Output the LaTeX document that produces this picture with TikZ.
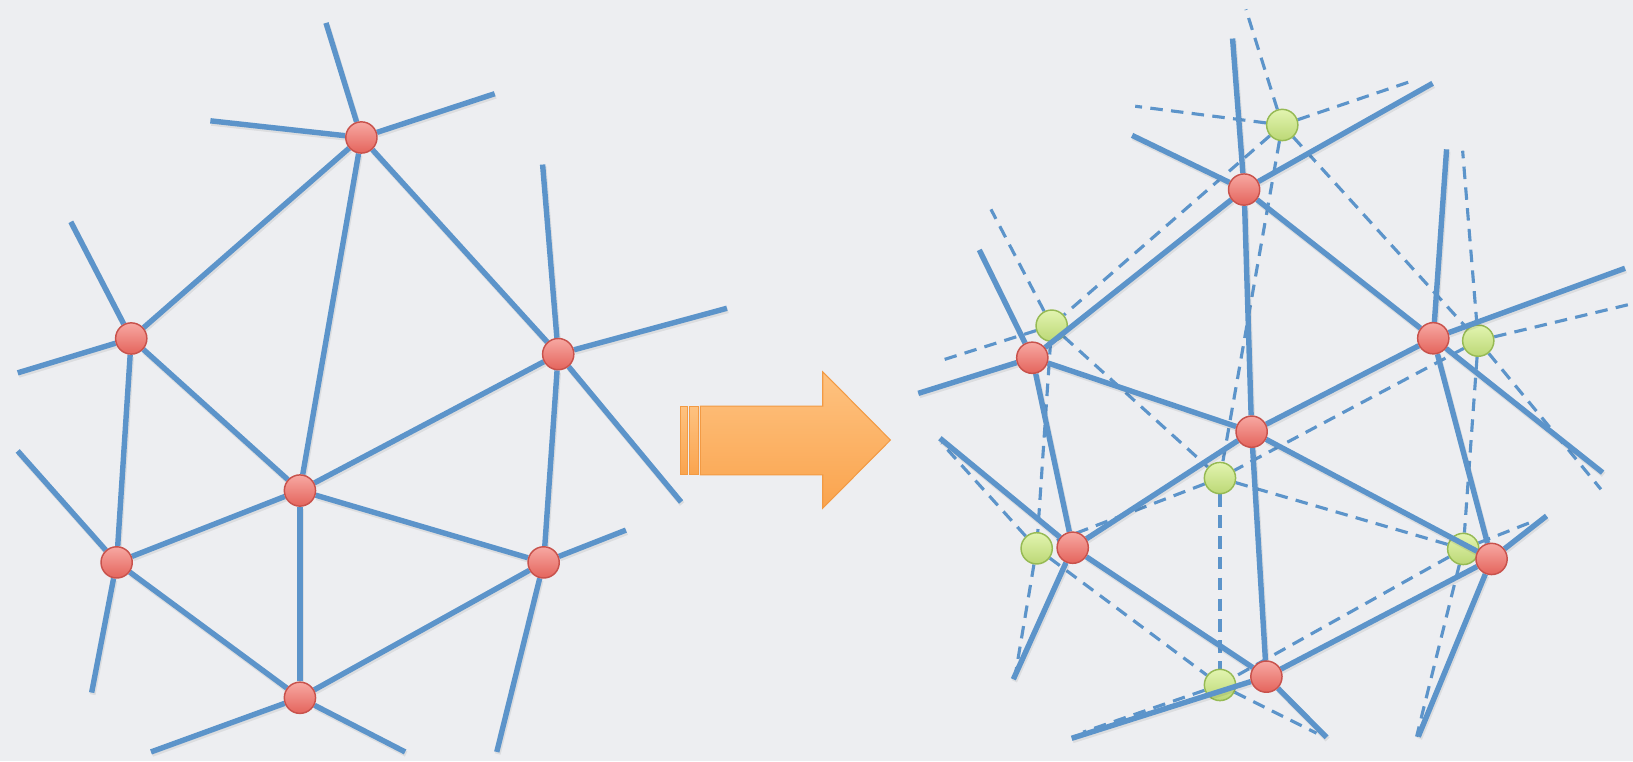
\documentclass[tikz,border=0pt]{standalone}
\usetikzlibrary{calc}
\definecolor{bg}{RGB}{237,238,241}
\definecolor{edgeblue}{RGB}{92,148,202}
\definecolor{redtop}{RGB}{247,168,162}
\definecolor{redbot}{RGB}{228,100,92}
\definecolor{redline}{RGB}{200,82,76}
\definecolor{greentop}{RGB}{226,244,176}
\definecolor{greenbot}{RGB}{188,216,118}
\definecolor{greenline}{RGB}{150,186,84}
\definecolor{arrtop}{RGB}{254,194,128}
\definecolor{arrbot}{RGB}{250,164,78}
\definecolor{arredge}{RGB}{242,154,68}
\pgfdeclarelayer{dashl}
\pgfdeclarelayer{greenl}
\pgfdeclarelayer{solidl}
\pgfsetlayers{dashl,greenl,solidl,main}
\begin{document}
\begin{tikzpicture}[x=1pt,y=-1pt,
  solidedge/.style={draw=edgeblue,line width=5.2pt,
    preaction={draw=black,opacity=0.07,line width=5.5pt,transform canvas={xshift=1pt,yshift=-2pt}}},
  dashededge/.style={draw=edgeblue,line width=3pt,dash pattern=on 12pt off 8pt},
  rednode/.style={circle,inner sep=0pt,minimum size=30pt,draw=redline,line width=1.4pt,top color=redtop,bottom color=redbot},
  greennode/.style={circle,inner sep=0pt,minimum size=30pt,draw=greenline,line width=1.4pt,top color=greentop,bottom color=greenbot},
  arrowpart/.style={draw=arredge,line width=1pt,top color=arrtop,bottom color=arrbot}]

\begin{pgfonlayer}{dashl}
\fill[bg] (0,0) rectangle (1568,731);
\end{pgfonlayer}
\useasboundingbox (0,0) rectangle (1568,731);

% ---------- left graph ----------
\node[rednode] (LA) at (347,132) {};
\node[rednode] (LB) at (126,325) {};
\node[rednode] (LC) at (536,340) {};
\node[rednode] (LD) at (288,471) {};
\node[rednode] (LE) at (112,540) {};
\node[rednode] (LF) at (522,540) {};
\node[rednode] (LG) at (288,670) {};
\coordinate (la1) at (313,22);
\coordinate (la2) at (202,116);
\coordinate (la3) at (475,90);
\coordinate (lb1) at (68,213);
\coordinate (lb2) at (17,358);
\coordinate (lc1) at (521,158);
\coordinate (lc2) at (698,296);
\coordinate (lc3) at (654,482);
\coordinate (le1) at (17,433);
\coordinate (le2) at (88,665);
\coordinate (lf1) at (601,509);
\coordinate (lf2) at (477,722);
\coordinate (lg1) at (145,722);
\coordinate (lg2) at (389,722);

% ---------- right solid graph ----------
\node[rednode] (RA) at (1194.6,182) {};
\node[rednode] (RB) at (991.2,343.5) {};
\node[rednode] (RC) at (1376.2,324.8) {};
\node[rednode] (RD) at (1201.8,414.5) {};
\node[rednode] (RE) at (1030,525.9) {};
\node[rednode] (RF) at (1432.2,536.7) {};
\node[rednode] (RG) at (1216,649.7) {};
\coordinate (ra1) at (1183.5,37);
\coordinate (ra2) at (1087,130);
\coordinate (ra3) at (1375.6,80);
\coordinate (rb1) at (940.3,240);
\coordinate (rb2) at (881.7,377.7);
\coordinate (rc1) at (1389,143.4);
\coordinate (rc2) at (1560.3,257.6);
\coordinate (rc3) at (1538.8,453.8);
\coordinate (re1) at (902.5,420.8);
\coordinate (re2) at (973,652.2);
\coordinate (rf1) at (1485,495.4);
\coordinate (rf2) at (1361.8,707.3);
\coordinate (rg1) at (1029,708.9);
\coordinate (rg2) at (1273.8,708);

% ---------- right dashed graph ----------
\begin{pgfonlayer}{greenl}
\node[greennode] (DA) at (1231.2,120) {};
\node[greennode] (DB) at (1009.8,312.7) {};
\node[greennode] (DC) at (1419.4,327.1) {};
\node[greennode] (DD) at (1171.4,459) {};
\node[greennode] (DE) at (995.4,526.5) {};
\node[greennode] (DF) at (1405,527.1) {};
\node[greennode] (DG) at (1171.4,657.7) {};
\end{pgfonlayer}
\coordinate (da1) at (1196.3,9);
\coordinate (da2) at (1090,102);
\coordinate (da3) at (1358.6,76.8);
\coordinate (db1) at (951.5,201);
\coordinate (db2) at (900,347.3);
\coordinate (dc1) at (1404.4,144.7);
\coordinate (dc2) at (1572,290.5);
\coordinate (dc3) at (1537.2,469.8);
\coordinate (de1) at (904.2,425.6);
\coordinate (de2) at (974.6,649.7);
\coordinate (df1) at (1475.4,499.3);
\coordinate (df2) at (1360.2,707.3);
\coordinate (dg1) at (1040,703);
\coordinate (dg2) at (1264,704);

% ---------- edges ----------
\begin{pgfonlayer}{solidl}
\foreach \p in {L,R}{
  \draw[solidedge] (\p A) -- (\p B);
  \draw[solidedge] (\p A) -- (\p D);
  \draw[solidedge] (\p A) -- (\p C);
  \draw[solidedge] (\p B) -- (\p D);
  \draw[solidedge] (\p B) -- (\p E);
  \draw[solidedge] (\p C) -- (\p D);
  \draw[solidedge] (\p C) -- (\p F);
  \draw[solidedge] (\p D) -- (\p E);
  \draw[solidedge] (\p D) -- (\p F);
  \draw[solidedge] (\p D) -- (\p G);
  \draw[solidedge] (\p E) -- (\p G);
  \draw[solidedge] (\p F) -- (\p G);
}
\foreach \p/\q in {L/l,R/r}{
  \draw[solidedge] (\p A) -- (\q a1);
  \draw[solidedge] (\p A) -- (\q a2);
  \draw[solidedge] (\p A) -- (\q a3);
  \draw[solidedge] (\p B) -- (\q b1);
  \draw[solidedge] (\p B) -- (\q b2);
  \draw[solidedge] (\p C) -- (\q c1);
  \draw[solidedge] (\p C) -- (\q c2);
  \draw[solidedge] (\p C) -- (\q c3);
  \draw[solidedge] (\p E) -- (\q e1);
  \draw[solidedge] (\p E) -- (\q e2);
  \draw[solidedge] (\p F) -- (\q f1);
  \draw[solidedge] (\p F) -- (\q f2);
  \draw[solidedge] (\p G) -- (\q g1);
  \draw[solidedge] (\p G) -- (\q g2);
}
\end{pgfonlayer}

\begin{pgfonlayer}{dashl}
\draw[dashededge] (DA) -- (DB);
\draw[dashededge] (DA) -- (DD);
\draw[dashededge] (DA) -- (DC);
\draw[dashededge] (DB) -- (DD);
\draw[dashededge] (DB) -- (DE);
\draw[dashededge] (DC) -- (DD);
\draw[dashededge] (DC) -- (DF);
\draw[dashededge] (DD) -- (DE);
\draw[dashededge] (DD) -- (DF);
\draw[dashededge] (DD) -- (DG);
\draw[dashededge] (DE) -- (DG);
\draw[dashededge] (DF) -- (DG);
\draw[dashededge] (DA) -- (da1);
\draw[dashededge] (DA) -- (da2);
\draw[dashededge] (DA) -- (da3);
\draw[dashededge] (DB) -- (db1);
\draw[dashededge] (DB) -- (db2);
\draw[dashededge] (DC) -- (dc1);
\draw[dashededge] (DC) -- (dc2);
\draw[dashededge] (DC) -- (dc3);
\draw[dashededge] (DE) -- (de1);
\draw[dashededge] (DE) -- (de2);
\draw[dashededge] (DF) -- (df1);
\draw[dashededge] (DF) -- (df2);
\draw[dashededge] (DG) -- (dg1);
\draw[dashededge] (DG) -- (dg2);
\end{pgfonlayer}

% ---------- big arrow ----------
\shade[arrowpart] (653.5,390) rectangle (660.5,456);
\shade[arrowpart] (662,390) rectangle (671,456);
\shade[arrowpart] (672.5,390) -- (790,390) -- (790,357) -- (855,422.5)
  -- (790,488) -- (790,456) -- (672.5,456) -- cycle;
\end{tikzpicture}
\end{document}
